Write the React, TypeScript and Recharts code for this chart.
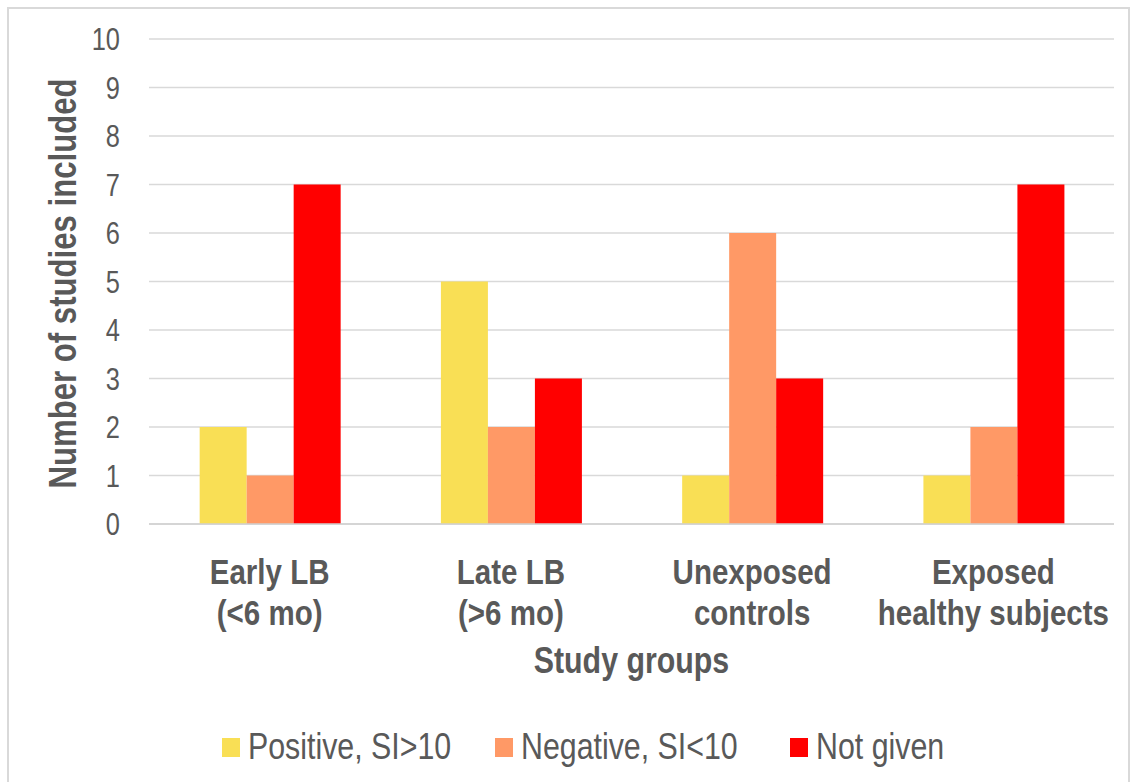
import { BarChart, Bar, XAxis, YAxis, CartesianGrid, Legend } from 'recharts'

const FONT = "'Liberation Sans', Arial, sans-serif"
const TEXT = '#595959'
// no narrow face is installed, so texts are squeezed to the Arial Narrow width
const NARROW = 0.82

const categories = ['Early LB\n(<6 mo)', 'Late LB\n(>6 mo)', 'Unexposed\ncontrols', 'Exposed\nhealthy subjects']
const positive = [2, 5, 1, 1]
const negative = [1, 2, 6, 2]
const notGiven = [7, 3, 3, 7]
const yTicks = [0, 1, 2, 3, 4, 5, 6, 7, 8, 9, 10]

const SERIES = [
  { key: 'positive', name: 'Positive, SI>10', color: '#F9DF55' },
  { key: 'negative', name: 'Negative, SI<10', color: '#FF9966' },
  { key: 'notGiven', name: 'Not given', color: '#FF0000' },
]

const data = categories.map((c, i) => ({
  group: c,
  positive: positive[i],
  negative: negative[i],
  notGiven: notGiven[i],
}))

function GroupTick({ x, y, payload }: { x?: number; y?: number; payload?: { value: string } }) {
  const lines = (payload?.value ?? '').split('\n')
  return (
    <g transform={`translate(${x}, ${y}) scale(${NARROW}, 1)`}>
      <text x={0} y={0} textAnchor="middle" fill={TEXT} fontFamily={FONT} fontWeight="bold" fontSize={36}>
        {lines.map((l, i) => (
          <tspan key={i} x={0} y={58 + i * 41}>{l}</tspan>
        ))}
      </text>
    </g>
  )
}

function ValueTick({ x, y, payload }: { x?: number; y?: number; payload?: { value: number } }) {
  return (
    <g transform={`translate(${x}, ${y}) scale(${NARROW}, 1)`}>
      <text x={0} y={0} dy="0.36em" textAnchor="end" fill={TEXT} fontFamily={FONT} fontSize={31}>
        {payload?.value}
      </text>
    </g>
  )
}

function YLabel({ viewBox }: { viewBox?: { x: number; y: number; width: number; height: number } }) {
  if (!viewBox) return null
  const cx = viewBox.x + 76
  const cy = viewBox.y + viewBox.height / 2 + 2
  return (
    <g transform={`translate(${cx}, ${cy}) rotate(-90) scale(${NARROW}, 1)`}>
      <text x={0} y={0} textAnchor="middle" fill={TEXT} fontFamily={FONT} fontWeight="bold" fontSize={38}>
        Number of studies included
      </text>
    </g>
  )
}

function XLabel({ viewBox }: { viewBox?: { x: number; y: number; width: number; height: number } }) {
  if (!viewBox) return null
  const cx = viewBox.x + viewBox.width / 2
  const cy = viewBox.y + 149
  return (
    <g transform={`translate(${cx}, ${cy}) scale(${NARROW}, 1)`}>
      <text x={0} y={0} textAnchor="middle" fill={TEXT} fontFamily={FONT} fontWeight="bold" fontSize={37}>
        Study groups
      </text>
    </g>
  )
}

// widths fix where each legend square lands
const LEGEND_WIDTHS = [273, 295, 200]

function LegendBox() {
  return (
    <div style={{ display: 'flex', alignItems: 'center', height: 70, paddingLeft: 222, fontFamily: FONT }}>
      {SERIES.map((s, i) => (
        <div key={s.key} style={{ display: 'flex', alignItems: 'center', width: LEGEND_WIDTHS[i] }}>
          <span style={{ display: 'inline-block', width: 18, height: 19, background: s.color, marginRight: 8, flexShrink: 0 }} />
          <span
            style={{
              fontSize: 37,
              color: TEXT,
              whiteSpace: 'nowrap',
              display: 'inline-block',
              transform: `scaleX(${NARROW})`,
              transformOrigin: 'left center',
            }}
          >
            {s.name}
          </span>
        </div>
      ))}
    </div>
  )
}

export default function App() {
  return (
    <div style={{ position: 'absolute', left: 0, top: 0, width: 1135, height: 782, overflow: 'hidden', background: '#fff' }}>
      <div
        style={{
          position: 'absolute',
          left: 7,
          top: 7,
          width: 1119,
          height: 900,
          border: '2px solid #d9d9d9',
        }}
      />
      <div style={{ position: 'absolute', left: 0, top: 0 }}>
        <BarChart
          width={1135}
          height={782}
          data={data}
          margin={{ top: 39, right: 21, bottom: 0, left: 0 }}
          barCategoryGap="21%"
          barGap={0}
        >
          <CartesianGrid vertical={false} stroke="#d9d9d9" strokeWidth={1.5} />
          <XAxis
            dataKey="group"
            interval={0}
            height={188}
            tickSize={0}
            tickLine={false}
            axisLine={{ stroke: '#d0d0d0', strokeWidth: 1.5 }}
            tick={<GroupTick />}
            label={<XLabel />}
          />
          <YAxis
            width={149}
            domain={[0, 10]}
            ticks={yTicks}
            interval={0}
            axisLine={false}
            tickLine={false}
            tickSize={0}
            tickMargin={29}
            tick={<ValueTick />}
            label={<YLabel />}
          />
          <Legend
            verticalAlign="bottom"
            height={70}
            content={<LegendBox />}
            wrapperStyle={{ left: 0, width: 1135, height: 70 }}
          />
          {SERIES.map((s) => (
            <Bar key={s.key} dataKey={s.key} name={s.name} fill={s.color} isAnimationActive={false} />
          ))}
        </BarChart>
      </div>
    </div>
  )
}
